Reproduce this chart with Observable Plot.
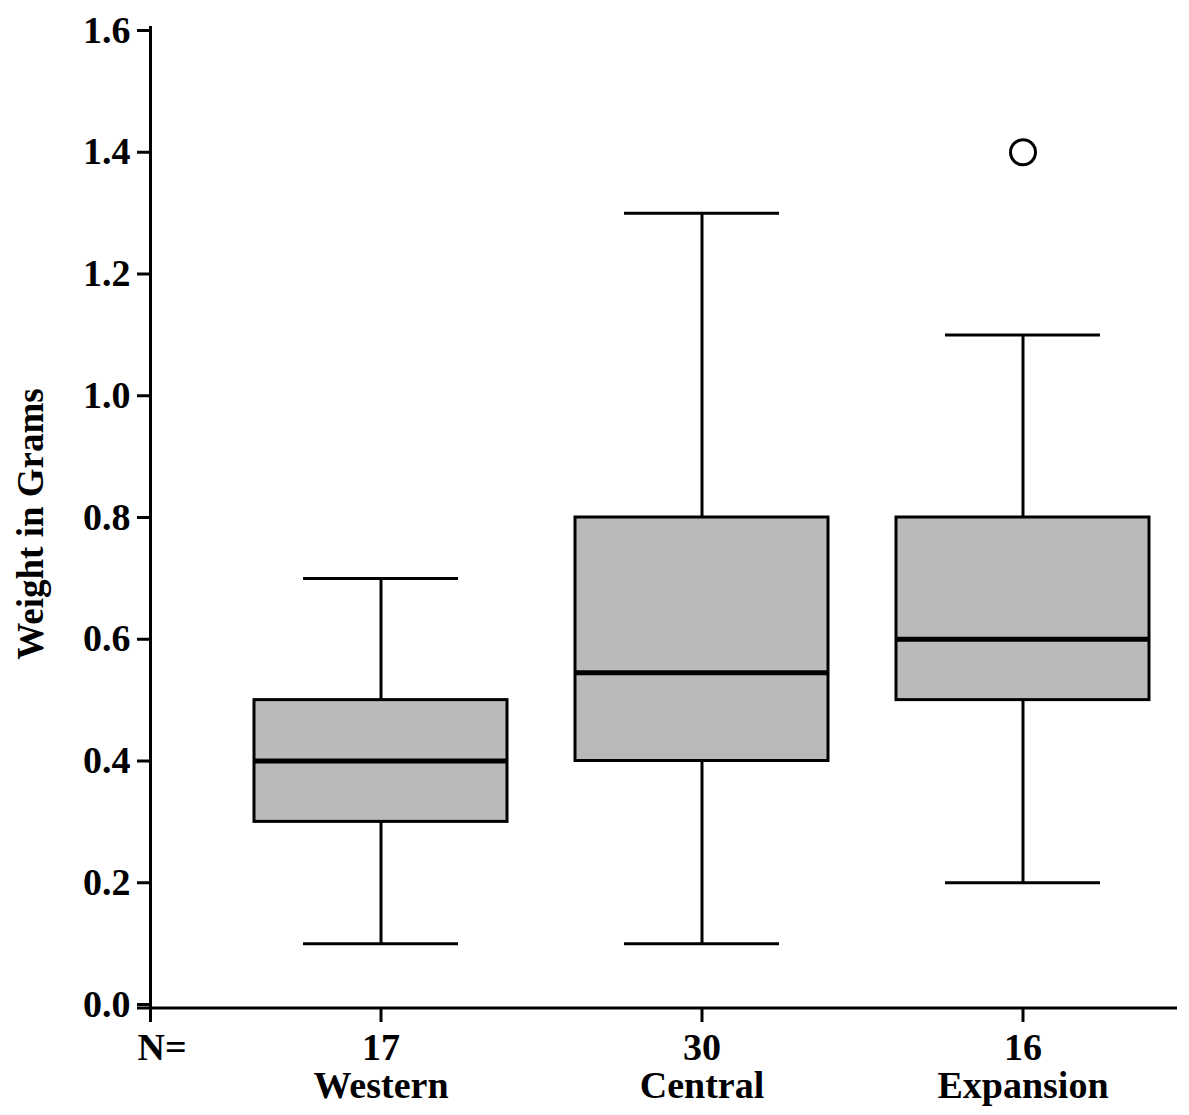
<!DOCTYPE html>
<html>
<head>
<meta charset="utf-8">
<script src="https://cdn.jsdelivr.net/npm/d3@7"></script>
<script src="https://cdn.jsdelivr.net/npm/@observablehq/plot@0.6"></script>
<style>
  html, body { margin: 0; padding: 0; background: #fff; }
</style>
</head>
<body>
<div id="chart"></div>
<script>
const groups = ["Western", "Central", "Expansion"];
const counts = [17, 30, 16];
const whiskerLow = [0.1, 0.1, 0.2];
const q1 = [0.3, 0.4, 0.5];
const median = [0.4, 0.545, 0.6];
const q3 = [0.5, 0.8, 0.8];
const whiskerHigh = [0.7, 1.3, 1.1];
const outlierGroups = ["Expansion"];
const outlierValues = [1.4];
const yTicks = [0, 0.2, 0.4, 0.6, 0.8, 1.0, 1.2, 1.4, 1.6];
const yLabel = "Weight in Grams";
const nLabel = "N=";

const rows = groups.map((g, i) => ({
  group: g, n: counts[i], lo: whiskerLow[i], q1: q1[i], med: median[i], q3: q3[i], hi: whiskerHigh[i]
}));
const outliers = outlierGroups.map((g, i) => ({group: g, value: outlierValues[i]}));

const font = "'Liberation Serif', 'Times New Roman', serif";

const plot = Plot.plot({
  width: 1189,
  height: 1115,
  marginTop: 27,
  marginBottom: 95,
  marginLeft: 150,
  marginRight: 12,
  style: {fontFamily: font, fontWeight: "bold", fontSize: "38px", color: "#000", background: "#fff"},
  x: {type: "band", domain: groups, range: [218.75, 1183.75], padding: 0, axis: null},
  y: {domain: [0, 1.6], range: [1004, 30], axis: null},
  marks: [
    // whiskers
    Plot.ruleX(rows, {x: "group", y1: "lo", y2: "q1", stroke: "#000", strokeWidth: 3}),
    Plot.ruleX(rows, {x: "group", y1: "q3", y2: "hi", stroke: "#000", strokeWidth: 3}),
    // caps
    Plot.tickY(rows, {x: "group", y: "lo", stroke: "#000", strokeWidth: 3, insetLeft: 83, insetRight: 83}),
    Plot.tickY(rows, {x: "group", y: "hi", stroke: "#000", strokeWidth: 3, insetLeft: 83, insetRight: 83}),
    // boxes
    Plot.barY(rows, {x: "group", y1: "q1", y2: "q3", fill: "#bababa", stroke: "#000", strokeWidth: 3, insetLeft: 34, insetRight: 34}),
    // medians
    Plot.tickY(rows, {x: "group", y: "med", stroke: "#000", strokeWidth: 5, insetLeft: 35, insetRight: 35}),
    // outliers
    Plot.dot(outliers, {x: "group", y: "value", r: 12.5, fill: "#fff", stroke: "#000", strokeWidth: 3}),
    // y axis
    Plot.frame({anchor: "left", stroke: "#000", strokeWidth: 3}),
    Plot.axisY(yTicks, {tickFormat: (d) => d.toFixed(1), tickSize: 13, tickPadding: 7, strokeWidth: 3, fontSize: 38, fontWeight: "bold", label: null}),
    // x axis line
    Plot.ruleY([0], {dy: 3.5, insetLeft: -13, stroke: "#000", strokeWidth: 3}),
    // x ticks
    Plot.ruleX(rows, {x: "group", y1: 0, y2: 0, insetBottom: -14, dy: 4, stroke: "#000", strokeWidth: 3}),
    // x labels
    Plot.text(rows, {x: "group", text: (d) => `${d.n}\n${d.group}`, frameAnchor: "bottom", lineAnchor: "top", dy: 13, lineHeight: 1.0, fontSize: 38, fontWeight: "bold", fill: "#000"}),
    Plot.text([nLabel], {text: (d) => d, frameAnchor: "bottom-left", textAnchor: "start", lineAnchor: "top", dx: -13, dy: 13, fontSize: 38, fontWeight: "bold", fill: "#000"}),
    // y label
    Plot.text([yLabel], {text: (d) => d, frameAnchor: "left", textAnchor: "middle", lineAnchor: "middle", rotate: -90, dx: -119, fontSize: 37, fontWeight: "bold", fill: "#000"})
  ]
});
document.getElementById("chart").appendChild(plot);
</script>
</body>
</html>
